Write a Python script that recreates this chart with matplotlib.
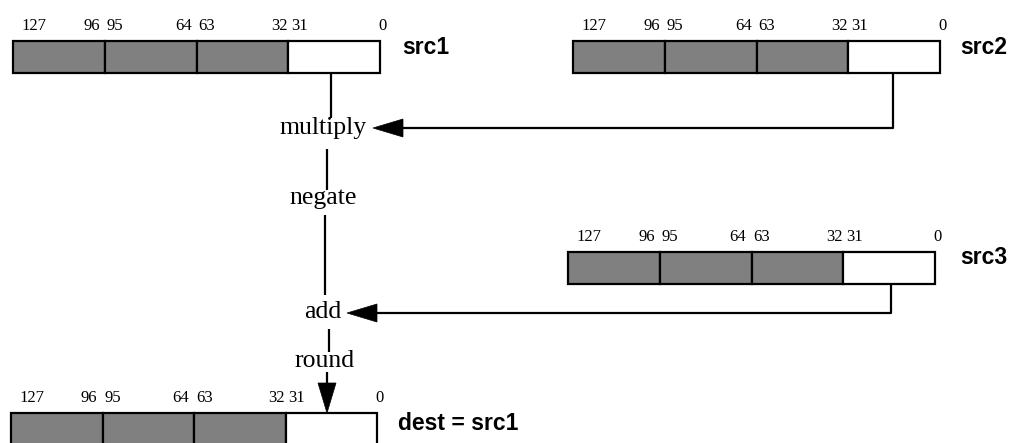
import matplotlib
matplotlib.use("Agg")
import matplotlib.pyplot as plt
from matplotlib.patches import Rectangle, Polygon

# ---- data ----
bit_labels = [("127", "96"), ("95", "64"), ("63", "32"), ("31", "0")]
lane_fill = ["#808080", "#808080", "#808080", "white"]
registers = ["src1", "src2", "src3", "dest = src1"]
operations = ["multiply", "negate", "add", "round"]

# layout (pixel coordinates)
reg_boxes = {  # name: (x0, x1, ytop, ybot, label_x, label_y)
    "src1": (13, 380, 41, 73, 402, 47),
    "src2": (573, 940, 41, 73, 960, 47),
    "src3": (568, 935, 252, 284, 960, 257),
    "dest = src1": (11, 377, 413, 445, 398, 423),
}
hi_off = [8, 2, 2, 3]
lo_off = [-5, -5, -1, 7]
op_pos = {"multiply": (323, 128), "negate": (323, 198), "add": (323, 312), "round": (325, 361)}

W, H = 1023, 443
fig = plt.figure(figsize=(W / 100, H / 100), dpi=100)
ax = fig.add_axes([0, 0, 1, 1])
ax.set_xlim(0, W)
ax.set_ylim(H, 0)
ax.axis("off")

serif = "Liberation Serif"
sans = "Liberation Sans"
LW = 1.6

for name in registers:
    x0, x1, yt, yb, lx, ly = reg_boxes[name]
    w = (x1 - x0) / 4
    for i, ((hi, lo), fc) in enumerate(zip(bit_labels, lane_fill)):
        ax.add_patch(Rectangle((x0 + i * w, yt), w, yb - yt, facecolor=fc,
                               edgecolor="black", lw=LW, clip_on=False))
        ax.text(x0 + i * w + hi_off[i], yt - 15, hi, fontsize=12, family=serif,
                ha="left", va="center")
        ax.text(x0 + (i + 1) * w + lo_off[i], yt - 15, lo, fontsize=12, family=serif,
                ha="right", va="center")
    ax.text(lx, ly, name, fontsize=16.5, family=sans, fontweight="bold",
            ha="left", va="center")

for op in operations:
    x, y = op_pos[op]
    ax.text(x, y, op, fontsize=18.5, family=serif, ha="center", va="center")


def line(xs, ys):
    ax.plot(xs, ys, color="black", lw=LW, solid_capstyle="butt")


def arrowhead(tipx, tipy, direction, length=30, half=9):
    if direction == "left":
        pts = [(tipx, tipy), (tipx + length, tipy - half), (tipx + length, tipy + half)]
    else:  # down
        pts = [(tipx, tipy), (tipx - half, tipy - length), (tipx + half, tipy - length)]
    ax.add_patch(Polygon(pts, closed=True, facecolor="black", edgecolor="black", lw=0.5))


# src1 -> multiply
line([331, 331], [73, 118])
# src2 -> multiply
line([893, 893, 400], [73, 128, 128])
arrowhead(373, 128, "left")
# multiply -> negate
line([327, 327], [149, 190])
# negate -> add
line([325, 325], [215, 295])
# src3 -> add
line([891, 891, 375], [284, 313, 313])
arrowhead(347, 313, "left")
# add -> round
line([329, 329], [329, 352])
# round -> dest
line([327, 327], [372, 388])
arrowhead(327, 413, "down")

fig.savefig("out.png", dpi=100)
